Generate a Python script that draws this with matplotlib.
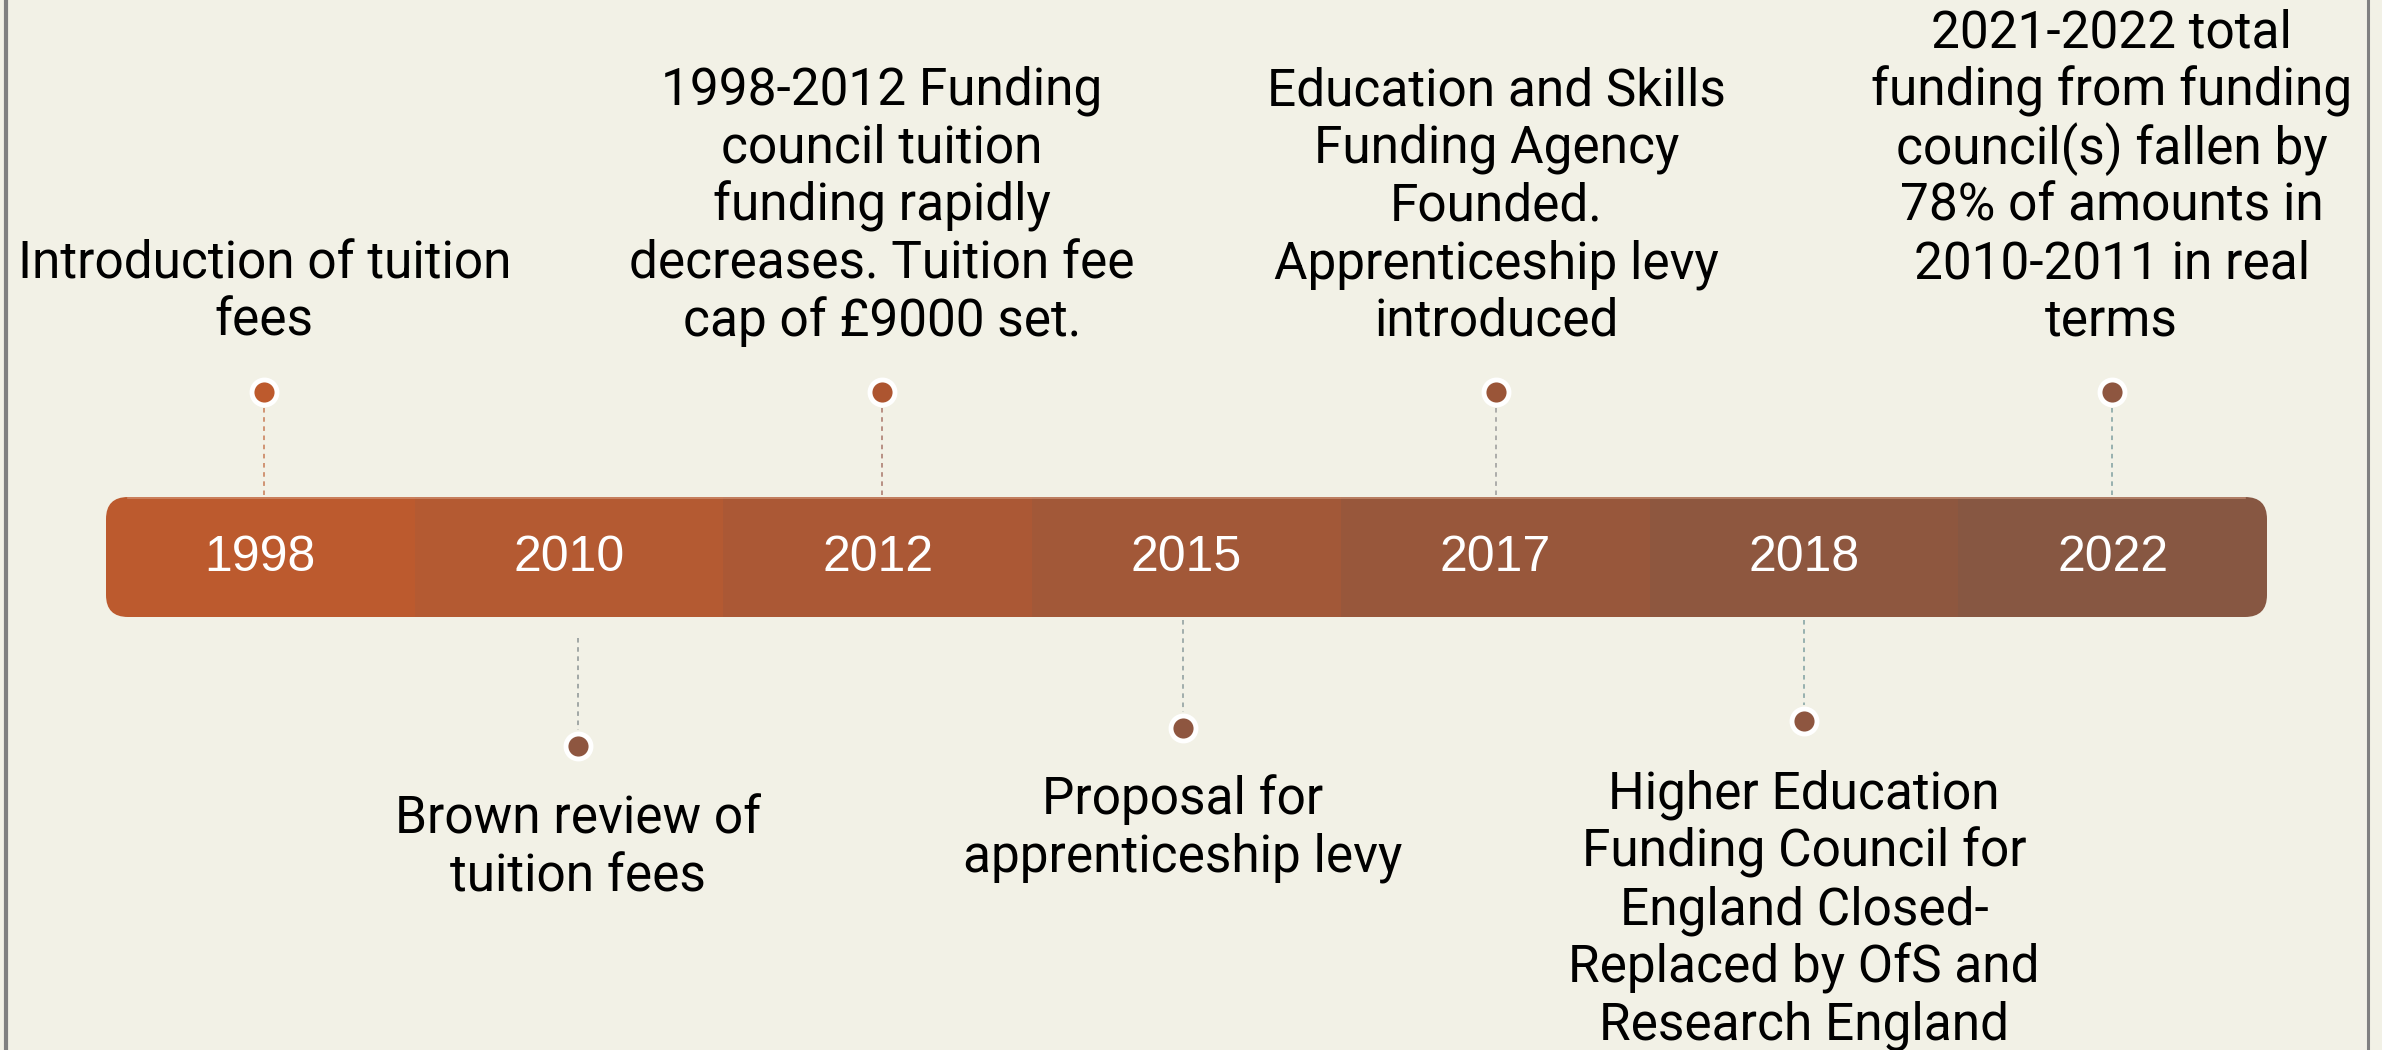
import matplotlib
matplotlib.use("Agg")
import matplotlib.pyplot as plt
from matplotlib.patches import FancyBboxPatch, Rectangle

# timeline data
years = ["1998", "2010", "2012", "2015", "2017", "2018", "2022"]
events = [
    "Introduction of tuition\nfees",
    "Brown review of\ntuition fees",
    "1998-2012 Funding\ncouncil tuition\nfunding rapidly\ndecreases. Tuition fee\ncap of £9000 set.",
    "Proposal for\napprenticeship levy",
    "Education and Skills\nFunding Agency\nFounded.\nApprenticeship levy\nintroduced",
    "Higher Education\nFunding Council for\nEngland Closed-\nReplaced by OfS and\nResearch England",
    "2021-2022 total\nfunding from funding\ncouncil(s) fallen by\n78% of amounts in\n2010-2011 in real\nterms",
]
side = ["up", "down", "up", "down", "up", "down", "up"]

seg_colors = ["#BC5A2E", "#B45A32", "#AB5835", "#A25838", "#98573B", "#8E573F", "#875742"]
dot_colors = ["#BD5A2D", "#8E5640", "#AD5530", "#8E5640", "#9A5538", "#8E5640", "#8E5640"]
line_colors = ["#C77B55", "#8C9494", "#A8766A", "#8C9C9C", "#9A9A9A", "#7FA0A0", "#7FA0A0"]

# layout (pixels)
W, H = 2382, 1050
bar_x0, bar_x1 = 106, 2267
bar_y0, bar_y1 = 497, 617
step = 57.7
x_nudge = [4, 9, 4, -4, 1, 0, -1]
up_dot_y = 392
down_dot_y = [746, 728, 721]
down_line_y0 = [638, 620, 620]
down_text_y = [820, 800, 795]
up_last_line = 322

bg = "#F2F1E6"
fig = plt.figure(figsize=(W / 100, H / 100), dpi=100)
fig.patch.set_facecolor(bg)
ax = fig.add_axes([0, 0, 1, 1])
ax.set_xlim(0, W)
ax.set_ylim(H, 0)
ax.axis("off")
ax.set_facecolor(bg)

# frame lines
ax.plot([6, 6], [0, H], color="#808080", lw=3)
ax.plot([2368, 2368], [0, H], color="#808080", lw=2.2)

# rounded bar
bar = FancyBboxPatch((bar_x0, bar_y0), bar_x1 - bar_x0, bar_y1 - bar_y0,
                     boxstyle="round,pad=0,rounding_size=22",
                     facecolor="none", edgecolor="none")
ax.add_patch(bar)
seg_w = (bar_x1 - bar_x0) / len(years)
centers = []
for i, yr in enumerate(years):
    x0 = bar_x0 + i * seg_w
    r = Rectangle((x0, bar_y0), seg_w, bar_y1 - bar_y0, facecolor=seg_colors[i],
                  edgecolor="none")
    ax.add_patch(r)
    r.set_clip_path(bar)
    cx = x0 + seg_w / 2
    centers.append(cx + x_nudge[i])
    ax.text(cx, (bar_y0 + bar_y1) / 2 + 1, yr, color="white", fontsize=36,
            family="Liberation Sans", ha="center", va="center")
# faint light edge on top of bar
ax.plot([bar_x0 + 22, bar_x1 - 22], [bar_y0 + 1, bar_y0 + 1], color="#D9A58A",
        lw=1.2, alpha=0.6)

# events
k = 0
for i, txt in enumerate(events):
    cx = centers[i]
    lines = txt.split("\n")
    if side[i] == "up":
        ax.plot([cx, cx], [up_dot_y + 16, bar_y0 - 2], ls=(0, (3, 3)), lw=1.1,
                color=line_colors[i])
        ax.plot(cx, up_dot_y, "o", ms=18, mfc=dot_colors[i], mec="white", mew=3.5)
        ys = [up_last_line - (len(lines) - 1 - j) * step for j in range(len(lines))]
    else:
        ax.plot([cx, cx], [down_line_y0[k], down_dot_y[k] - 16], ls=(0, (3, 3)), lw=1.1,
                color=line_colors[i])
        ax.plot(cx, down_dot_y[k], "o", ms=18, mfc=dot_colors[i], mec="white", mew=3.5)
        ys = [down_text_y[k] + j * step for j in range(len(lines))]
        k += 1
    for ln, y in zip(lines, ys):
        ax.text(cx, y, ln, fontsize=37, family="Roboto", color="black",
                ha="center", va="center")

fig.savefig("out.png", dpi=100, facecolor=bg)
